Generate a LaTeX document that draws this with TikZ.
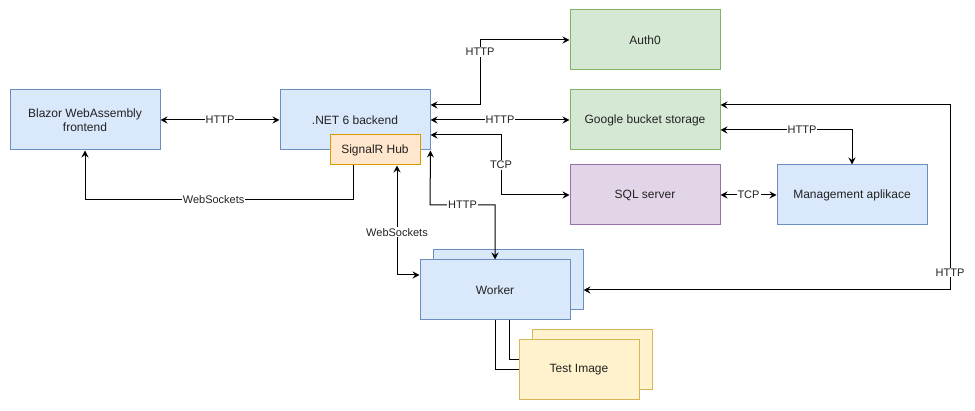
\documentclass[tikz,border=0pt]{standalone}
\usepackage{fontspec}
\setmainfont{Liberation Sans}
\usetikzlibrary{arrows.meta}
\definecolor{bluefill}{HTML}{DAE8FC}
\definecolor{bluedraw}{HTML}{6C8EBF}
\definecolor{greenfill}{HTML}{D5E8D4}
\definecolor{greendraw}{HTML}{82B366}
\definecolor{purplefill}{HTML}{E1D5E7}
\definecolor{purpledraw}{HTML}{9673A6}
\definecolor{orangefill}{HTML}{FFE6CC}
\definecolor{orangedraw}{HTML}{D79B00}
\definecolor{yellowfill}{HTML}{FFF2CC}
\definecolor{yellowdraw}{HTML}{D6B656}
\definecolor{txt}{HTML}{222222}
\tikzset{
  box/.style={draw, line width=1pt, minimum width=150pt, minimum height=60pt, inner sep=0pt,
    align=center, text=txt, font=\fontsize{12}{14}\selectfont},
  bluebox/.style={box, fill=bluefill, draw=bluedraw},
  greenbox/.style={box, fill=greenfill, draw=greendraw},
  purplebox/.style={box, fill=purplefill, draw=purpledraw},
  orangebox/.style={box, fill=orangefill, draw=orangedraw, minimum width=90pt, minimum height=30pt},
  yellowbox/.style={box, fill=yellowfill, draw=yellowdraw, minimum width=120pt},
  conn/.style={line width=1pt, draw=black},
  both/.style={conn, {Stealth[length=7pt,width=7pt,inset=2.5pt]}-{Stealth[length=7pt,width=7pt,inset=2.5pt]}},
  single/.style={conn, -{Stealth[length=7pt,width=7pt,inset=2.5pt]}},
  lbl/.style={fill=white, inner sep=1pt, text=txt, font=\fontsize{11}{13}\selectfont},
}
\begin{document}
\begin{tikzpicture}[x=1pt,y=-1pt]
\useasboundingbox[fill=white] (0,0) rectangle (975,411);
% nodes
\node[bluebox] (blazor) at (85,120) {Blazor WebAssembly\\frontend};
\node[bluebox] (backend) at (355,120) {.NET 6 backend};
\node[orangebox] (hub) at (375,150) {SignalR Hub};
\node[greenbox] (auth) at (645,40) {Auth0};
\node[greenbox] (google) at (645,120) {Google bucket storage};
\node[purplebox] (sql) at (645,195) {SQL server};
\node[bluebox] (mgmt) at (852,195) {Management aplikace};
\node[bluebox] (workerback) at (508,280) {};
\node[bluebox] (worker) at (495,290) {Worker};
\node[yellowbox] (testback) at (592,360) {};
\node[yellowbox] (test) at (579,370) {Test Image};
% connectors
\draw[both] (blazor.east) -- node[lbl]{HTTP} (backend.west);
\draw[single] (353,0 |- hub.south) -- (353,200) -| node[lbl,pos=0.26]{WebSockets} (blazor.south);
\draw[both] (backend.east |- 0,105) -- (480,105) -- node[lbl,pos=0.815]{HTTP} (480,40) -- (auth.west);
\draw[both] (backend.east) -- node[lbl]{HTTP} (google.west);
\draw[both] (backend.east |- 0,135) -- (501,135) -- node[lbl]{TCP} (501,195) -- (sql.west);
\draw[both] (backend.south east) -- (430,205) -- node[lbl]{HTTP} (495,205) -- (worker.north);
\draw[both] (397,0 |- hub.south) -- node[lbl,pos=0.61]{WebSockets} (397,275) -- (worker.west |- 0,275);
\draw[both] (google.east |- 0,130) -| node[lbl,pos=0.31]{HTTP} (mgmt.north);
\draw[both] (sql.east) -- node[lbl]{TCP} (mgmt.west);
\draw[both] (google.east |- 0,105) -- (950,105) -- node[lbl,pos=0.906]{HTTP} (950,290) -- (workerback.east |- 0,290);
\draw[conn] (worker.south) |- (test.west);
\draw[conn] (509,0 |- worker.south) |- (test.west |- 0,360);
\end{tikzpicture}
\end{document}
